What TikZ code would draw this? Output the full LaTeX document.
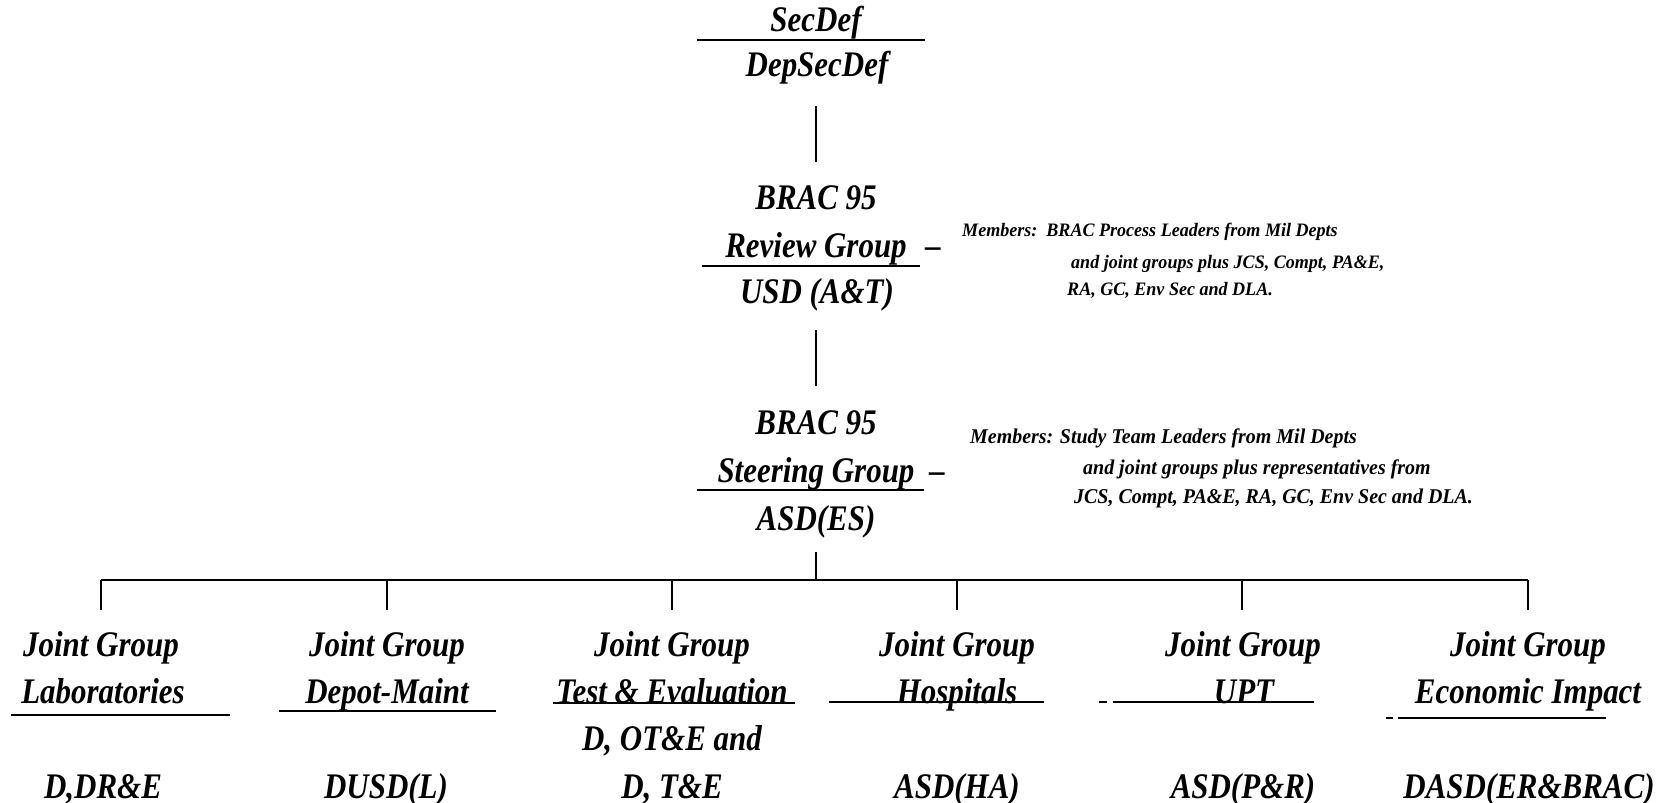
\documentclass[tikz,border=0pt]{standalone}
\usepackage{fontspec}
\newfontfamily\orgfont[FakeStretch=0.86]{Liberation Serif}
\newfontfamily\memfont[FakeStretch=0.95]{Liberation Serif}
\begin{document}
\begin{tikzpicture}[x=1bp,y=-1bp,
  lbl/.style={font=\orgfont\bfseries\itshape\fontsize{36bp}{38bp}\selectfont, inner sep=0pt, anchor=base},
  mem/.style={font=\memfont\bfseries\itshape\fontsize{19bp}{21bp}\selectfont, inner sep=0pt, anchor=base west},
  memb/.style={font=\memfont\bfseries\itshape\fontsize{21bp}{23bp}\selectfont, inner sep=0pt, anchor=base west},
  rule/.style={line width=2bp},
  conn/.style={line width=1.6bp}]
\useasboundingbox (0,0) rectangle (1662,803);
% top
\node[lbl] (secdef) at (816,32) {SecDef};
\node[lbl] (depsecdef) at (817,77) {DepSecDef};
\draw[rule] (697,40) -- (925,40);
% review group
\node[lbl] (brac1) at (816,209) {BRAC 95};
\node[lbl] (review) at (816,257) {Review Group};
\node[lbl] (dash1) at (933,257) {\textendash};
\draw[rule] (702,266) -- (920,266);
\node[lbl] (usd) at (817,303) {USD (A\&T)};
\node[mem] (m1a) at (962,236) {Members:\ \ BRAC Process Leaders from Mil Depts};
\node[mem] (m1b) at (1071,268) {and joint groups plus JCS, Compt, PA\&E,};
\node[mem] (m1c) at (1067,295) {RA, GC, Env Sec and DLA.};
% steering group
\node[lbl] (brac2) at (816,434) {BRAC 95};
\node[lbl] (steer) at (816,482) {Steering Group};
\node[lbl] (dash2) at (937,482) {\textendash};
\draw[rule] (697,490) -- (924,490);
\node[lbl] (asdes) at (816,530) {ASD(ES)};
\node[memb] (m2a) at (970,443) {Members: Study Team Leaders from Mil Depts};
\node[memb] (m2b) at (1083,474) {and joint groups plus representatives from};
\node[memb] (m2c) at (1074,503) {JCS, Compt, PA\&E, RA, GC, Env Sec and DLA.};
% connectors
\coordinate (v1a) at (816,106); \coordinate (v1b) at (816,162);
\coordinate (v2a) at (816,330); \coordinate (v2b) at (816,386);
\coordinate (v3a) at (816,552); \coordinate (bus) at (816,580);
\draw[conn] (v1a) -- (v1b);
\draw[conn] (v2a) -- (v2b);
\draw[conn] (v3a) -- (bus);
\coordinate (d1) at (101,580); \coordinate (d2) at (387,580); \coordinate (d3) at (672,580);
\coordinate (d4) at (957,580); \coordinate (d5) at (1242,580); \coordinate (d6) at (1528,580);
\coordinate (e1) at (101,610); \coordinate (e2) at (387,610); \coordinate (e3) at (672,610);
\coordinate (e4) at (957,610); \coordinate (e5) at (1242,610); \coordinate (e6) at (1528,610);
\draw[conn] (d1) -- (d6);
\foreach \i in {1,...,6}{\draw[conn] (d\i) -- (e\i);}
% joint groups
\node[lbl] (j1) at (101,656) {Joint Group};
\node[lbl] (j1b) at (103,703) {Laboratories};
\draw[rule] (11,715) -- (230,715);
\node[lbl] (j1c) at (103,798) {D,DR\&E};
\node[lbl] (j2) at (387,656) {Joint Group};
\node[lbl] (j2b) at (387,703) {Depot-Maint};
\draw[rule] (279,711) -- (496,711);
\node[lbl] (j2c) at (386,798) {DUSD(L)};
\node[lbl] (j3) at (672,656) {Joint Group};
\node[lbl] (j3b) at (672,703) {Test \& Evaluation};
\draw[rule] (553,703) -- (795,703);
\node[lbl] (j3c) at (672,750) {D, OT\&E and};
\node[lbl] (j3d) at (672,798) {D, T\&E};
\node[lbl] (j4) at (957,656) {Joint Group};
\node[lbl] (j4b) at (957,703) {Hospitals};
\draw[rule] (829,702) -- (1044,702);
\node[lbl] (j4c) at (957,798) {ASD(HA)};
\node[lbl] (j5) at (1243,656) {Joint Group};
\node[lbl] (j5b) at (1244,703) {UPT};
\draw[rule] (1099,702) -- (1107,702);
\draw[rule] (1113,702) -- (1314,702);
\node[lbl] (j5c) at (1243,798) {ASD(P\&R)};
\node[lbl] (j6) at (1528,656) {Joint Group};
\node[lbl] (j6b) at (1528,703) {Economic Impact};
\draw[rule] (1386,718) -- (1393,718);
\draw[rule] (1398,718) -- (1606,718);
\node[lbl] (j6c) at (1529,798) {DASD(ER\&BRAC)};
\end{tikzpicture}
\end{document}
